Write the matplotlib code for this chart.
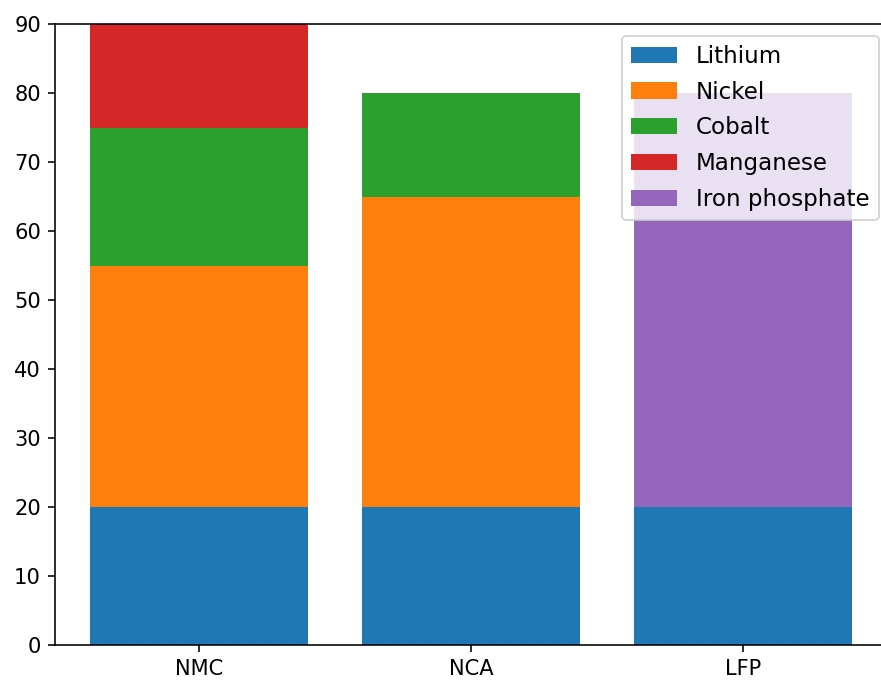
import numpy as np
import matplotlib
matplotlib.use("Agg")
import matplotlib.pyplot as plt

# battery chemistries and approximate cathode composition (% by weight)
chemistries = ["NMC", "NCA", "LFP"]
lithium = [20, 20, 20]
nickel = [35, 45, 0]
cobalt = [20, 15, 0]
manganese = [15, 0, 0]
iron_phosphate = [0, 0, 60]

materials = ["Lithium", "Nickel", "Cobalt", "Manganese", "Iron phosphate"]
series = [lithium, nickel, cobalt, manganese, iron_phosphate]

dpi = 144
fig = plt.figure(figsize=(881 / dpi, 684 / dpi), dpi=dpi)
# the original picture is cropped on the right, so the axes run past the edge
ax = fig.add_axes([55 / 881, 39 / 684, 835 / 881, 621 / 684])

bottom = np.zeros(len(chemistries))
for name, values in zip(materials, series):
    ax.bar(chemistries, values, bottom=bottom, label=name)
    bottom += np.array(values)

ax.set_xlim(-0.53, 2.54)
ax.set_ylim(0, 90)
ax.spines["right"].set_visible(False)  # lies outside the cropped picture
ax.tick_params(labelsize=10.5)
ax.legend(loc="upper right", fontsize=11.5, labelspacing=0.56)

fig.savefig("out.png", dpi=dpi)
